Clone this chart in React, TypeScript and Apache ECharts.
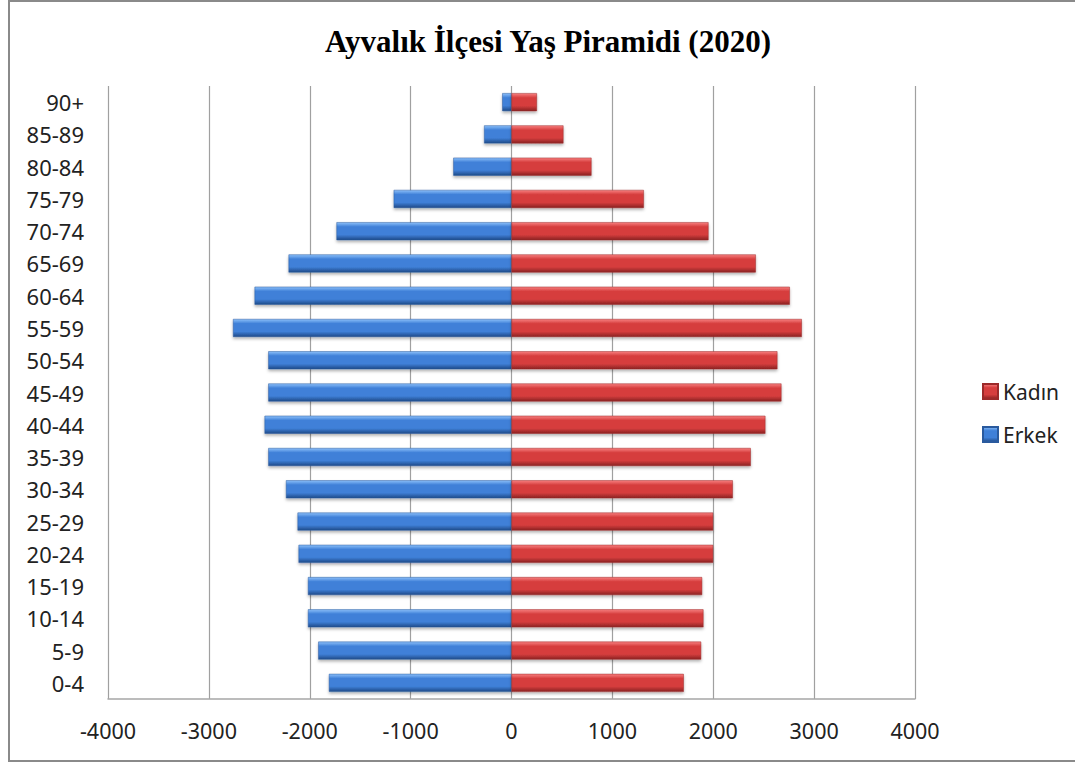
import React, { useEffect, useRef } from "react";
import * as echarts from "echarts";

const categories = ["0-4", "5-9", "10-14", "15-19", "20-24", "25-29", "30-34", "35-39", "40-44", "45-49", "50-54", "55-59", "60-64", "65-69", "70-74", "75-79", "80-84", "85-89", "90+"];
const erkek = [-1810, -1916, -2018, -2018, -2111, -2121, -2236, -2411, -2448, -2411, -2411, -2761, -2547, -2210, -1735, -1168, -577, -272, -92];
const kadin = [1708, 1880, 1903, 1890, 1999, 1999, 2194, 2372, 2517, 2676, 2636, 2878, 2759, 2422, 1953, 1312, 793, 515, 252];
const xTicks = { min: -4000, max: 4000, interval: 1000 };

const grad = (top: string, mid: string, bot: string) =>
  new echarts.graphic.LinearGradient(0, 0, 0, 1, [
    { offset: 0, color: top },
    { offset: 0.25, color: mid },
    { offset: 0.7, color: mid },
    { offset: 1, color: bot },
  ]);

export default function App() {
  const ref = useRef<HTMLDivElement>(null);
  useEffect(() => {
    if (!ref.current) return;
    const chart = echarts.init(ref.current, null, { renderer: "svg" });
    const font = "'Noto Sans', sans-serif";
    chart.setOption({
      animation: false,
      backgroundColor: "#ffffff",
      title: {
        text: "Ayvalık İlçesi Yaş Piramidi (2020)",
        left: 543,
        top: 21,
        textAlign: "center",
        textStyle: { fontFamily: "'Liberation Serif', serif", fontWeight: "bold", fontSize: 31, color: "#000" },
      },
      graphic: [
        {
          type: "rect",
          shape: { x: 9, y: 1, width: 1100, height: 760 },
          style: { fill: "none", stroke: "#8a8a8a", lineWidth: 2 },
          silent: true,
        },
      ],
      legend: {
        orient: "vertical",
        left: 977,
        top: 376,
        itemWidth: 15,
        itemHeight: 15,
        itemGap: 22,
        icon: "rect",
        data: ["Kadın", "Erkek"],
        textStyle: { fontFamily: font, fontSize: 21, color: "#222" },
      },
      grid: { left: 108, right: 160, top: 86, bottom: 66, containLabel: false },
      xAxis: {
        type: "value",
        min: xTicks.min,
        max: xTicks.max,
        interval: xTicks.interval,
        axisLine: { show: true, lineStyle: { color: "#a6a6a6", width: 1.5 } },
        axisTick: { show: false },
        splitLine: { show: true, lineStyle: { color: "#a0a0a0", width: 1.2 } },
        axisLabel: {
          formatter: (v: number) => String(v),
          fontFamily: font,
          fontSize: 21.5,
          color: "#222",
          margin: 20,
        },
      },
      yAxis: {
        type: "category",
        data: categories,
        axisLine: { show: false },
        axisTick: { show: false },
        axisLabel: { fontFamily: font, fontSize: 22, color: "#222", margin: 24 },
      },
      series: [
        {
          name: "Erkek",
          type: "bar",
          data: erkek,
          barWidth: 18,
          barGap: "-100%",
          itemStyle: {
            color: grad("#8cc0fa", "#3f80d8", "#1f4a88"),
            borderColor: "#2a5a9e",
            borderWidth: 0.5,
            shadowColor: "rgba(0,0,0,0.3)",
            shadowBlur: 3,
            shadowOffsetY: 2,
          },
        },
        {
          name: "Kadın",
          type: "bar",
          data: kadin,
          barWidth: 18,
          barGap: "-100%",
          itemStyle: {
            color: grad("#f88080", "#d63e3e", "#8a2222"),
            borderColor: "#9c2a2a",
            borderWidth: 0.5,
            shadowColor: "rgba(0,0,0,0.3)",
            shadowBlur: 3,
            shadowOffsetY: 2,
          },
        },
      ],
    });
    return () => chart.dispose();
  }, []);
  return <div ref={ref} style={{ position: "absolute", left: 0, top: 0, width: 1075, height: 765 }} />;
}
